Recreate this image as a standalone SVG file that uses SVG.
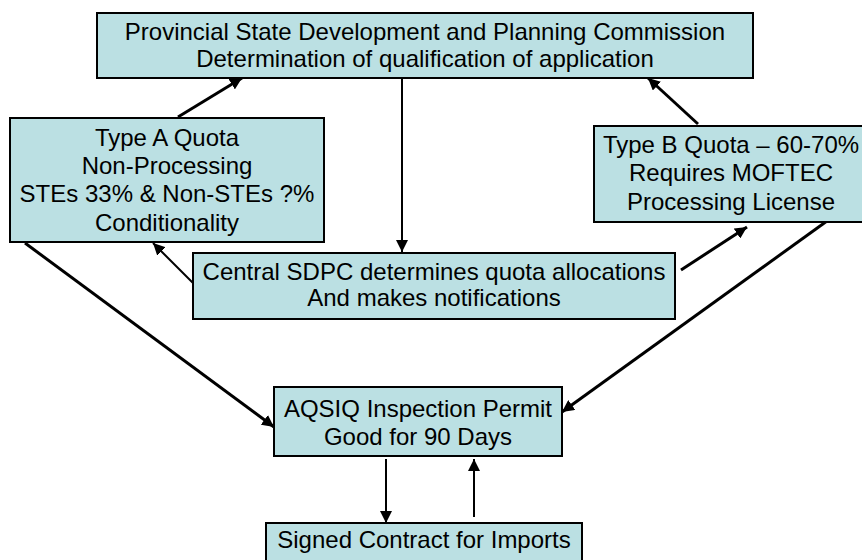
<svg xmlns="http://www.w3.org/2000/svg" width="862" height="560" viewBox="0 0 862 560">
<defs>
<style>
.box{fill:#BBE0E3;stroke:#000;stroke-width:2}
.t{font-family:"Liberation Sans",Arial,sans-serif;font-size:24px;fill:#000;text-anchor:middle}
.c{stroke:#000;fill:none}
.thick{stroke-width:3}
.thin{stroke-width:2}
</style>
<marker id="ah" markerUnits="userSpaceOnUse" markerWidth="14" markerHeight="12" refX="12" refY="6" orient="auto">
<path d="M0,0 L12,6 L0,12 Z" fill="#000"/>
</marker>
</defs>
<rect width="862" height="560" fill="#fff"/>
<g id="connectors">
<line class="c thick" x1="178" y1="117" x2="242" y2="78" marker-end="url(#ah)"/>
<line class="c thick" x1="698" y1="124" x2="648" y2="78" marker-end="url(#ah)"/>
<line class="c thin" x1="402" y1="78" x2="402" y2="252" marker-end="url(#ah)"/>
<line class="c thin" x1="193" y1="283" x2="153" y2="243" marker-end="url(#ah)"/>
<line class="c thick" x1="681" y1="270" x2="747" y2="227" marker-end="url(#ah)"/>
<line class="c thick" x1="25" y1="243" x2="274" y2="427" marker-end="url(#ah)"/>
<line class="c thick" x1="827" y1="221" x2="562" y2="412" marker-end="url(#ah)"/>
<line class="c thin" x1="386" y1="459" x2="386" y2="523" marker-end="url(#ah)"/>
<line class="c thin" x1="474" y1="517" x2="474" y2="459" marker-end="url(#ah)"/>
</g>
<g id="provincial">
<rect class="box" x="97" y="13" width="656" height="65"/>
<text class="t" x="425" y="40">Provincial State Development and Planning Commission</text>
<text class="t" x="425" y="67">Determination of qualification of application</text>
</g>
<g id="typeA">
<rect class="box" x="10" y="118" width="314" height="124"/>
<text class="t" x="167" y="146">Type A Quota</text>
<text class="t" x="167" y="174">Non-Processing</text>
<text class="t" x="167" y="202">STEs 33% &amp; Non-STEs ?%</text>
<text class="t" x="167" y="231">Conditionality</text>
</g>
<g id="typeB">
<rect class="box" x="594" y="126" width="274" height="96"/>
<text class="t" x="731" y="153">Type B Quota – 60-70%</text>
<text class="t" x="731" y="181">Requires MOFTEC</text>
<text class="t" x="731" y="210">Processing License</text>
</g>
<g id="central">
<rect class="box" x="193" y="253" width="482" height="66"/>
<text class="t" x="434" y="280">Central SDPC determines quota allocations</text>
<text class="t" x="434" y="306">And makes notifications</text>
</g>
<g id="aqsiq">
<rect class="box" x="274" y="387" width="288" height="69"/>
<text class="t" x="418" y="417">AQSIQ Inspection Permit</text>
<text class="t" x="418" y="445">Good for 90 Days</text>
</g>
<g id="signed">
<rect class="box" x="266" y="523" width="316" height="50"/>
<text class="t" x="424" y="548">Signed Contract for Imports</text>
</g>
</svg>
